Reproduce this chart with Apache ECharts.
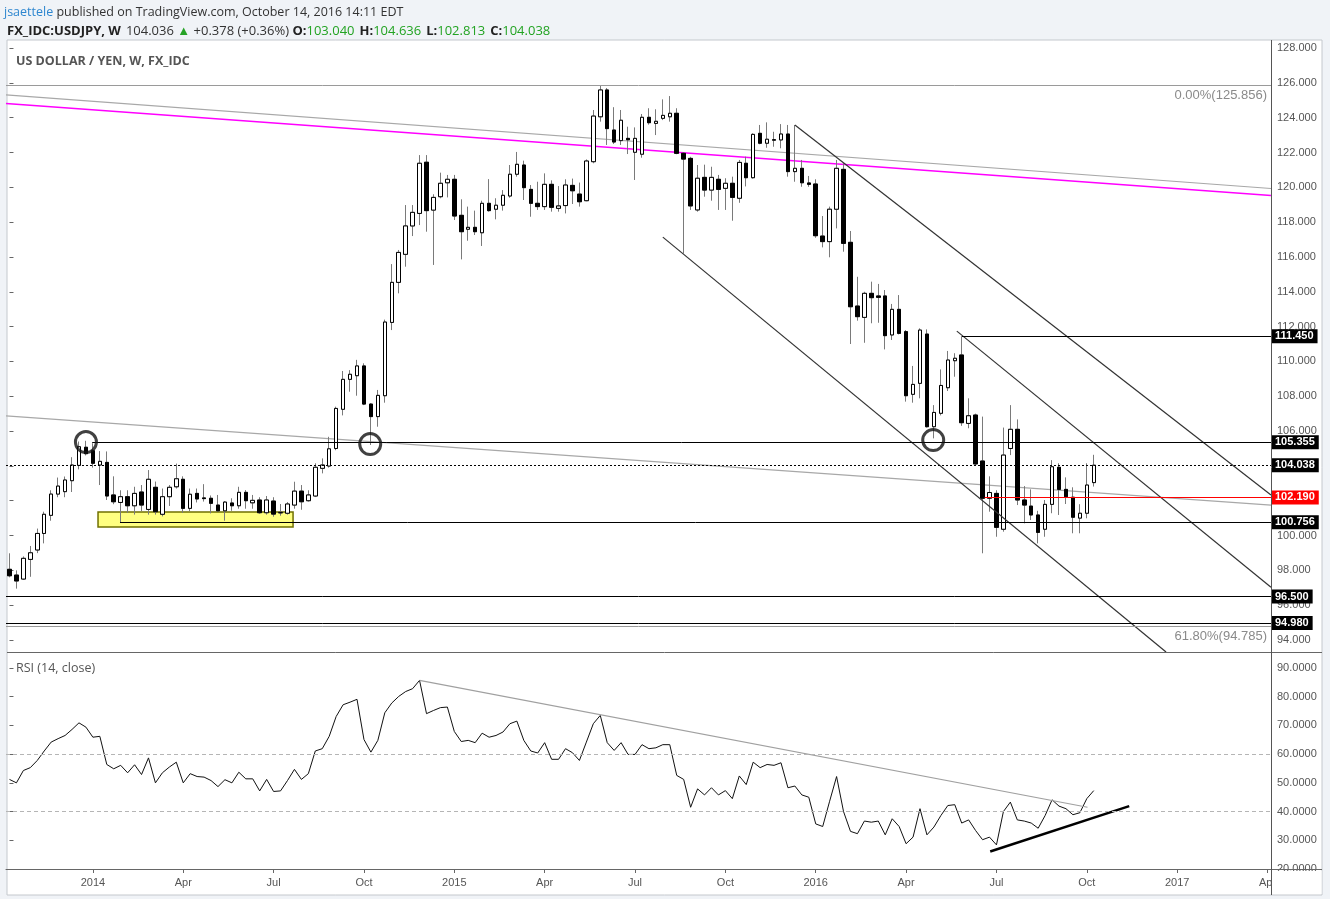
<!DOCTYPE html>
<html><head><meta charset="utf-8">
<script src="https://cdn.jsdelivr.net/npm/echarts@6/dist/echarts.min.js"></script>
<style>html,body{margin:0;padding:0;background:#f0f3f7;} #c{width:1330px;height:899px;}</style>
</head><body><div id="c"></div>
<script>
// ---------- DATA ----------
const firstWeek = '2013-10-14';
const axisWeekCount = 182;
const open = [98.06,97.73,97.50,98.63,99.17,100.12,101.16,102.38,102.52,103.15,104.03,105.07,104.87,104.05,104.20,102.33,101.90,102.23,101.71,102.50,101.50,102.77,101.22,102.23,102.80,103.23,101.56,102.42,102.16,102.14,101.75,101.42,101.87,101.71,102.48,101.88,102.04,101.31,101.98,101.30,101.28,101.75,102.55,102.00,102.27,103.86,103.99,105.00,107.25,108.97,109.18,109.74,107.55,106.83,108.03,112.24,114.54,116.15,117.78,118.50,121.44,118.69,119.46,120.26,120.46,118.39,117.59,117.70,117.39,119.08,118.74,118.97,119.50,120.75,121.28,119.88,119.08,118.89,120.17,118.79,118.95,120.11,119.61,119.23,121.47,124.05,125.59,123.29,122.68,122.81,122.01,121.90,124.02,123.67,123.96,124.05,124.25,121.95,121.66,118.70,120.57,119.84,120.46,119.94,120.23,119.37,121.38,120.55,123.10,122.53,122.70,122.72,123.06,120.90,121.09,120.25,120.19,117.20,116.88,118.74,121.03,116.84,113.18,112.53,113.91,113.76,113.76,111.52,112.99,111.71,108.11,108.74,111.57,106.25,107.02,108.49,110.04,110.37,106.44,106.92,104.28,102.14,102.42,100.36,105.00,106.10,102.04,101.69,101.18,100.36,101.79,103.92,102.65,102.20,101.00,101.28,103.04];
const high = [98.98,98.00,98.80,99.40,100.40,101.37,102.60,103.33,103.39,104.50,105.40,105.44,105.30,104.85,104.83,103.40,102.60,102.60,102.80,102.90,103.76,103.10,102.70,102.90,104.13,103.40,102.70,102.70,102.95,102.30,102.33,101.98,102.14,102.80,102.61,102.33,102.20,102.27,102.20,101.81,101.92,103.09,102.90,102.60,104.15,104.43,105.67,107.40,109.45,109.50,110.09,109.89,107.60,108.36,112.40,115.59,116.40,118.98,118.98,121.85,121.85,119.60,120.84,120.71,120.71,119.31,118.89,118.66,119.23,120.47,119.37,119.84,121.28,122.03,121.53,120.13,120.32,120.80,120.40,120.07,120.46,120.50,120.27,121.60,124.44,125.86,125.70,124.60,124.44,123.48,123.44,124.21,124.54,124.48,125.05,125.24,124.54,122.00,121.75,121.28,121.30,121.18,120.71,120.52,120.61,121.57,121.76,123.10,123.58,123.73,123.19,123.63,123.58,123.58,121.57,120.65,120.46,118.35,118.89,121.57,121.38,117.49,114.86,114.00,114.58,114.45,114.10,113.30,113.81,111.80,109.74,111.90,111.84,107.49,109.54,110.60,110.47,111.42,107.88,107.00,106.83,103.40,102.60,106.20,107.49,106.67,102.84,102.65,101.42,102.04,104.33,104.15,103.34,102.77,101.80,104.15,104.636];
const low = [97.60,96.95,97.45,97.63,98.99,99.55,100.85,102.20,102.20,102.50,103.80,104.60,103.90,102.90,102.04,101.80,100.76,101.30,101.20,101.40,101.20,101.20,101.10,101.70,102.70,101.30,101.40,101.90,101.95,101.27,101.37,100.85,101.42,101.54,101.54,101.54,101.25,101.20,101.08,101.14,101.20,101.54,101.48,101.95,102.21,103.57,103.90,104.90,106.90,108.26,108.03,107.49,105.20,106.25,107.63,111.80,113.91,115.44,117.20,117.83,117.45,115.54,119.37,119.42,118.12,115.86,116.93,117.26,116.63,118.60,118.16,118.66,119.40,120.61,119.27,118.31,118.70,118.70,118.60,118.60,118.50,119.04,118.89,119.20,121.38,123.77,122.43,122.49,122.43,121.91,120.42,121.70,123.60,123.00,123.86,123.77,121.90,116.20,118.70,118.60,119.46,119.23,118.70,118.70,118.08,119.11,120.05,120.50,122.47,122.27,122.33,122.24,120.61,120.32,120.03,120.03,117.10,116.55,115.98,117.64,116.30,111.00,112.34,111.07,112.19,112.22,110.69,111.23,111.55,107.69,107.63,107.88,106.20,105.58,106.90,108.30,109.12,106.30,106.16,104.00,98.98,101.37,99.93,100.22,104.62,101.75,100.70,100.89,99.55,99.93,101.28,101.18,101.81,100.13,100.13,100.99,102.813];
const close = [97.69,97.39,98.69,99.01,100.12,101.22,102.38,102.84,103.19,104.05,105.10,104.70,104.15,104.26,102.27,101.94,102.23,101.71,102.42,101.75,103.23,101.37,102.23,102.77,103.26,101.56,102.37,102.10,102.12,101.85,101.42,101.92,101.71,102.48,102.00,102.02,101.31,102.04,101.23,101.33,101.81,102.55,101.94,102.33,103.92,104.05,104.98,107.30,108.97,109.26,109.74,107.55,106.83,108.05,112.26,114.54,116.26,117.78,118.56,121.38,118.66,119.42,120.23,120.46,118.35,117.45,117.70,117.45,119.08,118.66,118.97,119.54,120.75,121.32,119.98,119.08,118.89,120.17,118.85,118.93,120.13,119.80,119.17,121.51,124.09,125.59,123.37,122.60,123.85,122.73,122.81,124.02,123.71,123.79,124.13,124.25,121.95,121.62,118.93,120.52,119.84,120.57,119.88,120.23,119.42,121.43,120.55,123.04,122.53,122.76,122.74,123.06,120.90,121.09,120.26,120.17,117.22,116.88,118.74,121.09,116.78,113.14,112.57,113.91,113.66,113.68,111.48,112.99,111.61,108.03,108.68,111.80,106.25,107.07,108.62,110.08,110.18,106.48,106.88,104.11,102.14,102.47,100.47,104.62,106.10,102.04,101.75,101.18,100.18,101.79,103.95,102.65,102.23,101.05,101.28,102.90,104.038];
const rsi = [51.2,50.0,54.3,55.3,57.8,61.1,64.2,65.4,66.5,68.6,70.9,69.4,65.9,66.2,56.4,54.9,56.1,53.5,56.3,52.9,58.7,50.0,53.5,55.5,57.2,50.0,53.2,52.2,52.0,50.8,48.7,51.1,50.0,53.7,51.4,51.4,47.2,51.2,47.0,47.2,50.8,54.7,51.2,53.2,61.1,61.9,66.2,73.1,77.2,78.1,79.1,65.1,60.7,64.8,74.4,77.8,80.1,81.8,82.8,85.7,74.1,75.2,76.2,76.4,67.9,64.4,64.8,64.0,67.3,65.9,66.5,67.7,70.6,71.5,64.8,61.1,60.4,64.0,58.2,58.2,61.9,60.5,57.8,64.2,70.6,73.5,64.0,61.3,64.0,59.9,59.9,63.3,61.9,62.2,63.3,63.3,52.6,51.2,41.5,47.9,45.8,48.3,45.8,47.3,44.5,52.4,49.4,57.2,55.3,56.4,56.1,57.0,48.3,48.9,45.8,45.0,35.7,34.8,43.6,52.2,40.0,33.1,32.3,36.7,36.3,36.7,31.9,37.5,34.8,28.8,31.1,41.0,31.9,34.6,38.6,42.1,42.4,36.0,37.1,33.4,30.2,31.1,28.4,40.0,43.3,37.1,36.7,36.0,34.2,38.6,44.1,41.9,41.0,38.9,39.6,44.5,47.3];
const priceTicks = {min: 94, max: 128, step: 2};
const rsiTicks = {min: 20, max: 90, step: 10};
const rsiBands = [60, 40];
// drawings, [week index, value]
const upperGrayLine = [[-0.5,125.31],[181.5,119.93]];
const magentaLine = [[-0.5,124.81],[181.5,119.53]];
const lowerGrayLine = [[-0.5,106.87],[181.5,101.75]];
const channelLower = [[94.0,117.14],[166.4,93.31]];
const channelUpper = [[113.0,123.58],[181.5,102.33]];
const channelMiddle = [[136.3,111.74],[181.5,97.03]];
const fibLevels = [{v:125.856, text:'0.00%(125.856)'},{v:94.785, text:'61.80%(94.785)'}];
const levelValues = [111.45,105.355,104.038,100.756,96.5,94.98];
const levelFrom = [137,11.9,-0.5,15.9,-0.5,-0.5];
const redLevel = {v:102.19, from:140.3};
const circleMarks = [[11.0,105.37],[51.9,105.25],[132.9,105.48]];
const consolidationZone = [[12.74,101.35],[40.8,100.49]];
const rsiDownTrend = [[59,85.7],[155.1,41.5]];
const rsiUpTrend = [[141.1,26.1],[161.1,41.9]];

// ---------- BUILD ----------
const weeks = [];
const t0 = Date.parse(firstWeek + 'T00:00:00Z');
for (let i = 0; i < axisWeekCount; i++) weeks.push(new Date(t0 + i * 7 * 864e5).toISOString().slice(0, 10));
const candleData = open.map((o, i) => [o, close[i], low[i], high[i]]);
const bodyData = open.map((o, i) => [o, close[i], Math.min(o, close[i]), Math.max(o, close[i])]);
const xEnd = axisWeekCount - 0.5;
const MONTHS = ['Jan','Feb','Mar','Apr','May','Jun','Jul','Aug','Sep','Oct','Nov','Dec'];
function quarterStart(idx, val) { const d = new Date(val + 'T00:00:00Z'); return d.getUTCDate() <= 7 && d.getUTCMonth() % 3 === 0; }
const FONT = 'Liberation Sans';
const HF = 'Open Sans';

const levelMarks = levelValues.map((v, i) => [
  {coord: [levelFrom[i], v], lineStyle: {color: '#000', width: 1, type: v === 104.038 ? [2, 2] : 'solid'},
   label: {show: true, position: 'end', distance: 1, formatter: v.toFixed(3), color: '#fff', backgroundColor: '#000',
           padding: [2, 4, 1, 3], fontSize: 11, fontWeight: 'bold', fontFamily: FONT}},
  {coord: [xEnd, v]}
]);
levelMarks.push([
  {coord: [redLevel.from, redLevel.v], lineStyle: {color: '#ff0000', width: 1, type: 'solid'},
   label: {show: true, position: 'end', distance: 1, formatter: redLevel.v.toFixed(3), color: '#fff', backgroundColor: '#ff0000',
           padding: [2, 4, 1, 3], fontSize: 11, fontWeight: 'bold', fontFamily: FONT}},
  {coord: [xEnd, redLevel.v]}
]);
fibLevels.forEach(f => levelMarks.push([
  {coord: [-0.5, f.v], lineStyle: {color: '#9a9a9a', width: 1, type: 'solid'},
   label: {show: true, position: 'insideEndBottom', distance: 4, formatter: f.text, color: '#8a8a8a', fontSize: 13, fontFamily: FONT}},
  {coord: [xEnd, f.v]}
]));

function trend(data, color, width, xi, yi) {
  return {type: 'line', xAxisIndex: xi, yAxisIndex: yi, data: data, symbol: 'none', silent: true, clip: false, z: 4,
          lineStyle: {color: color, width: width}, animation: false};
}

const option = {
  animation: false,
  backgroundColor: '#f0f3f7',
  title: [
    {left: 4, top: 6, padding: 0, text: '{u|jsaettele}{t| published on TradingView.com, October 14, 2016 14:11 EDT}',
     textStyle: {fontWeight: 'normal', rich: {u: {color: '#2e86cf', fontSize: 12.5, fontWeight: 'normal', fontFamily: HF},
                                              t: {color: '#333', fontSize: 12.5, fontWeight: 'normal', fontFamily: HF}}}},
    {left: 7, top: 22, padding: 0,
     text: '{b|FX_IDC:USDJPY, W} {n|104.036 }{g|▲}{n| +0.378 (+0.36%) }{b|O:}{v|103.040} {b|H:}{v|104.636} {b|L:}{v|102.813} {b|C:}{v|104.038}',
     textStyle: {fontWeight: 'normal', rich: {b: {color: '#222', fontWeight: 'bold', fontSize: 13, fontFamily: HF},
                        n: {color: '#333', fontWeight: 'normal', fontSize: 13, fontFamily: HF},
                        g: {color: '#27a327', fontWeight: 'normal', fontSize: 13, fontFamily: HF},
                        v: {color: '#22a322', fontWeight: 'normal', fontSize: 13, fontFamily: HF}}}},
    {left: 16, top: 55, padding: 0, text: 'US DOLLAR / YEN, W, FX_IDC', textStyle: {color: '#555', fontSize: 12.5, fontWeight: 'bold', fontFamily: HF}},
    {left: 16, top: 662, padding: 0, text: 'RSI (14, close)', textStyle: {color: '#555', fontSize: 12.5, fontWeight: 'normal', fontFamily: HF}}
  ],
  graphic: [
    {type: 'rect', silent: true, z: -10, shape: {x: 7, y: 40, width: 1315, height: 855}, style: {fill: '#fff', stroke: '#c4c8cd', lineWidth: 1}},
    {type: 'line', silent: true, z: 10, shape: {x1: 7, y1: 652.5, x2: 1322, y2: 652.5}, style: {stroke: '#666', lineWidth: 1}},
    {type: 'line', silent: true, z: 10, shape: {x1: 7, y1: 869.5, x2: 1322, y2: 869.5}, style: {stroke: '#666', lineWidth: 1}},
    {type: 'rect', silent: true, z: 50, shape: {x: 1271.5, y: 871, width: 50, height: 23}, style: {fill: '#fff'}},
    {type: 'line', silent: true, z: 60, shape: {x1: 1271.5, y1: 40, x2: 1271.5, y2: 895}, style: {stroke: '#555', lineWidth: 1}}
  ],
  grid: [
    {left: 6, right: 59, top: 48, height: 592},
    {left: 6, right: 59, top: 668, height: 201}
  ],
  xAxis: [
    {type: 'category', gridIndex: 0, data: weeks, show: false},
    {type: 'category', gridIndex: 1, data: weeks,
     axisLine: {show: true, lineStyle: {color: '#666'}},
     axisTick: {show: true, interval: quarterStart, alignWithLabel: true, length: 4, lineStyle: {color: '#666'}},
     axisLabel: {interval: quarterStart, color: '#555', fontSize: 11, fontFamily: FONT, margin: 8,
                 formatter: v => { const d = new Date(v + 'T00:00:00Z'); const m = d.getUTCMonth(); return m === 0 ? String(d.getUTCFullYear()) : MONTHS[m]; }}},
    {type: 'value', gridIndex: 0, min: -0.5, max: xEnd, show: false},
    {type: 'value', gridIndex: 1, min: -0.5, max: xEnd, show: false}
  ],
  yAxis: [
    {type: 'value', gridIndex: 0, position: 'right', min: priceTicks.min, max: priceTicks.max, interval: priceTicks.step,
     splitLine: {show: false}, axisLine: {show: false}, axisTick: {show: true, length: 4, lineStyle: {color: '#666'}},
     axisLabel: {color: '#555', fontSize: 11, fontFamily: FONT, margin: 6, formatter: v => v.toFixed(3)}},
    {type: 'value', gridIndex: 1, position: 'right', min: rsiTicks.min, max: rsiTicks.max, interval: rsiTicks.step,
     splitLine: {show: false}, axisLine: {show: false}, axisTick: {show: true, length: 4, lineStyle: {color: '#666'}},
     axisLabel: {color: '#555', fontSize: 11, fontFamily: FONT, margin: 6, formatter: v => v.toFixed(4)}}
  ],
  series: [
    {type: 'line', xAxisIndex: 2, yAxisIndex: 0, data: [], silent: true, z: 1,
     markArea: {silent: true, itemStyle: {color: '#ffff80', borderColor: '#707000', borderWidth: 1.5},
                data: [[{coord: consolidationZone[0]}, {coord: consolidationZone[1]}]]}},
    Object.assign(trend(upperGrayLine, '#a8a8a8', 1.2, 2, 0), {z: 2,
      markLine: {silent: true, symbol: ['none', 'none'], animation: false, data: levelMarks}}),
    Object.assign(trend(magentaLine, '#ff00ff', 1.5, 2, 0), {z: 2}),
    Object.assign(trend(lowerGrayLine, '#a8a8a8', 1.2, 2, 0), {z: 2}),
    {type: 'candlestick', xAxisIndex: 0, yAxisIndex: 0, data: candleData, barWidth: 4, z: 3, silent: true,
     itemStyle: {color: '#fff', color0: '#000', borderColor: '#7a7a7a', borderColor0: '#7a7a7a', borderWidth: 1}},
    {type: 'candlestick', xAxisIndex: 0, yAxisIndex: 0, data: bodyData, barWidth: 4, z: 3, silent: true,
     itemStyle: {color: '#fff', color0: '#000', borderColor: '#000', borderColor0: '#000', borderWidth: 1}},
    trend(channelLower, '#333', 1.2, 2, 0),
    trend(channelUpper, '#333', 1.2, 2, 0),
    trend(channelMiddle, '#333', 1.2, 2, 0),
    {type: 'scatter', xAxisIndex: 2, yAxisIndex: 0, data: circleMarks, symbol: 'circle', symbolSize: 21, silent: true, z: 5,
     itemStyle: {color: 'rgba(0,0,0,0)', borderColor: '#111', borderWidth: 3}},
    {type: 'line', xAxisIndex: 1, yAxisIndex: 1, data: rsi, symbol: 'none', silent: true, z: 3,
     lineStyle: {color: '#111', width: 1},
     markLine: {silent: true, symbol: ['none', 'none'], label: {show: false},
                lineStyle: {color: '#b5b5b5', type: [4, 3], width: 1}, data: rsiBands.map(v => ({yAxis: v}))}},
    trend(rsiDownTrend, '#a0a0a0', 1.2, 3, 1),
    trend(rsiUpTrend, '#000', 2.5, 3, 1)
  ]
};
const chart = echarts.init(document.getElementById('c'), null, {width: 1330, height: 899});
chart.setOption(option);
</script>
</body></html>
